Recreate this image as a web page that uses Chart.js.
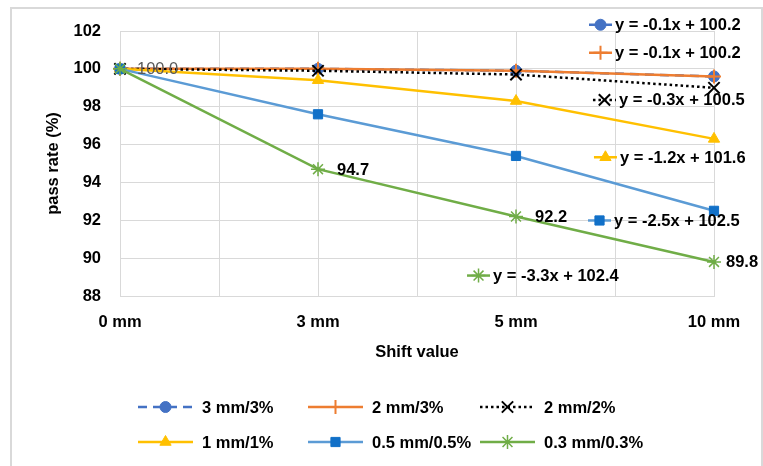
<!DOCTYPE html>
<html><head><meta charset="utf-8">
<script src="https://cdn.jsdelivr.net/npm/chart.js@4/dist/chart.umd.min.js"></script>
<style>html,body{margin:0;padding:0;background:#fff}#wrap{width:763px;height:466px;position:relative}</style>
</head><body><div id="wrap"><canvas id="c"></canvas></div>
<script>
// ---- data ----
const categories = ['0 mm', '3 mm', '5 mm', '10 mm'];
const seriesNames = ['3 mm/3%', '2 mm/3%', '2 mm/2%', '1 mm/1%', '0.5 mm/0.5%', '0.3 mm/0.3%'];
const s3mm3pct = [100.0, 100.0, 99.9, 99.6];
const s2mm3pct = [100.0, 100.0, 99.9, 99.6];
const s2mm2pct = [100.0, 99.9, 99.7, 99.0];
const s1mm1pct = [100.0, 99.4, 98.3, 96.3];
const s05mm05pct = [100.0, 97.6, 95.4, 92.5];
const s03mm03pct = [100.0, 94.7, 92.2, 89.8];
const trendEquations = ['y = -0.1x + 100.2', 'y = -0.1x + 100.2', 'y = -0.3x + 100.5',
                        'y = -1.2x + 101.6', 'y = -2.5x + 102.5', 'y = -3.3x + 102.4'];
const yMin = 88, yMax = 102, yStep = 2;

// ---- styles ----
const FONT = '"Liberation Sans", Arial, sans-serif';
const seriesValues = [s3mm3pct, s2mm3pct, s2mm2pct, s1mm1pct, s05mm05pct, s03mm03pct];
const styles = [
  {line: '#4472C4', point: '#4472C4', dash: [9, 6], ps: 'circle', r: 5.5, lw: 2.5, pbw: 1},
  {line: '#ED7D31', point: '#ED7D31', dash: [], ps: 'cross', r: 7, lw: 2.5, pbw: 2},
  {line: '#000000', point: '#000000', dash: [2.5, 3], ps: 'crossRot', r: 8, lw: 2.5, pbw: 2},
  {line: '#FFC000', point: '#FFC000', dash: [], ps: 'triangle', r: 6.5, lw: 2.5, pbw: 1},
  {line: '#5B9BD5', point: '#1170C8', dash: [], ps: 'rect', r: 6.5, lw: 2.5, pbw: 1},
  {line: '#70AD47', point: '#70AD47', dash: [], ps: 'star', r: 7, lw: 2.5, pbw: 1.5}
];

const datasets = seriesValues.map((vals, i) => ({
  label: seriesNames[i],
  data: vals.map((v, j) => ({x: j, y: v})),
  borderColor: styles[i].line,
  backgroundColor: styles[i].point,
  borderDash: styles[i].dash,
  borderWidth: styles[i].lw,
  pointStyle: styles[i].ps,
  pointRadius: styles[i].r,
  pointBackgroundColor: styles[i].point,
  pointBorderColor: styles[i].point,
  pointBorderWidth: styles[i].pbw,
  tension: 0,
  fill: false,
  clip: false,
  order: seriesValues.length - i
}));

function drawMarker(ctx, st, x, y) {
  const opts = {pointStyle: st.ps, radius: st.r, borderWidth: st.pbw, rotation: 0};
  ctx.save();
  ctx.setLineDash([]);
  ctx.fillStyle = st.point;
  ctx.strokeStyle = st.point;
  ctx.lineWidth = st.pbw;
  if (Chart.helpers && Chart.helpers.drawPoint) {
    Chart.helpers.drawPoint(ctx, opts, x, y);
  } else {
    ctx.beginPath(); ctx.arc(x, y, st.r, 0, Math.PI * 2); ctx.fill();
  }
  ctx.restore();
}
function drawKey(ctx, st, x0, x1, y) {
  ctx.save();
  ctx.strokeStyle = st.line;
  ctx.lineWidth = st.lw;
  ctx.setLineDash(st.dash);
  ctx.beginPath(); ctx.moveTo(x0, y); ctx.lineTo(x1, y); ctx.stroke();
  ctx.restore();
  drawMarker(ctx, st, (x0 + x1) / 2, y);
}

const extras = {
  id: 'extras',
  beforeDraw(chart) {
    const ctx = chart.ctx;
    ctx.save();
    ctx.strokeStyle = '#d9d9d9';
    ctx.lineWidth = 2;
    ctx.strokeRect(11, 8, 751, 470);
    ctx.restore();
  },
  afterDatasetsDraw(chart, args, o) {
    const ctx = chart.ctx, xs = chart.scales.x, ys = chart.scales.y;
    ctx.save();
    ctx.textBaseline = 'middle';
    ctx.textAlign = 'left';
    // data labels
    o.dataLabels.forEach(dl => {
      const v = seriesValues[dl.series][dl.index];
      ctx.font = dl.font;
      ctx.fillStyle = dl.color;
      ctx.fillText(v.toFixed(1), xs.getPixelForValue(dl.index) + dl.dx, ys.getPixelForValue(v) + 1);
    });
    // trendline equation labels
    trendEquations.forEach((t, i) => {
      const p = o.trendPos[i];
      const tx = xs.getPixelForValue(p[0]);
      const ty = ys.getPixelForValue(p[1]);
      drawKey(ctx, styles[i], tx - 26, tx - 3, ty);
      ctx.fillStyle = '#000';
      ctx.font = 'bold 16.5px ' + FONT;
      ctx.textAlign = 'left';
      ctx.textBaseline = 'middle';
      ctx.fillText(t, tx, ty + 1);
    });
    // legend
    const L = o.legend;
    seriesNames.forEach((n, i) => {
      const row = Math.floor(i / 3), col = i % 3;
      const y = L.rows[row];
      const x0 = L.cols[col];
      drawKey(ctx, styles[i], x0, x0 + L.keyLen, y);
      ctx.fillStyle = '#000';
      ctx.font = 'bold 16.5px ' + FONT;
      ctx.textAlign = 'left';
      ctx.textBaseline = 'middle';
      ctx.fillText(n, x0 + L.keyLen + L.gap, y + 1);
    });
    ctx.restore();
  }
};

new Chart(document.getElementById('c'), {
  type: 'line',
  data: {datasets},
  plugins: [extras],
  options: {
    responsive: true,
    maintainAspectRatio: false,
    animation: false,
    devicePixelRatio: 1,
    layout: {padding: {left: 40, right: 49, top: 31, bottom: 100}},
    plugins: {
      legend: {display: false},
      tooltip: {enabled: false},
      extras: {
        dataLabels: [
          {series: 0, index: 0, dx: 17, color: '#595959', font: '16.5px ' + FONT},
          {series: 5, index: 1, dx: 19, color: '#000', font: 'bold 16.5px ' + FONT},
          {series: 5, index: 2, dx: 19, color: '#000', font: 'bold 16.5px ' + FONT},
          {series: 5, index: 3, dx: 12, color: '#000', font: 'bold 16.5px ' + FONT}
        ],
        trendPos: [[2.5, 102.33], [2.5, 100.85], [2.52, 98.36], [2.525, 95.33], [2.495, 91.99], [1.884, 89.08]],
        legend: {rows: [407, 442], cols: [138, 308, 480], keyLen: 55, gap: 9}
      }
    },
    scales: {
      x: {
        type: 'linear', min: 0, max: categories.length - 1,
        afterFit(s) { s.height = 70; },
        grid: {color: '#d9d9d9', lineWidth: 1, drawTicks: false},
        border: {display: true, color: '#d9d9d9'},
        ticks: {
          stepSize: 0.5, padding: 17, color: '#000', autoSkip: false, maxRotation: 0,
          font: {family: FONT, size: 16.5, weight: 'bold'},
          callback: v => Number.isInteger(v) ? categories[v] : ''
        },
        title: {display: true, text: 'Shift value', color: '#000',
                font: {family: FONT, size: 16.5, weight: 'bold'}}
      },
      y: {
        min: yMin, max: yMax,
        afterFit(s) { s.width = 80; },
        grid: {color: '#d9d9d9', lineWidth: 1, drawTicks: false},
        border: {display: true, color: '#d9d9d9'},
        ticks: {stepSize: yStep, padding: 19, color: '#000',
                font: {family: FONT, size: 16.5, weight: 'bold'}},
        title: {display: true, text: 'pass rate (%)', color: '#000',
                font: {family: FONT, size: 16.5, weight: 'bold'}}
      }
    }
  }
});
</script>
</body></html>
